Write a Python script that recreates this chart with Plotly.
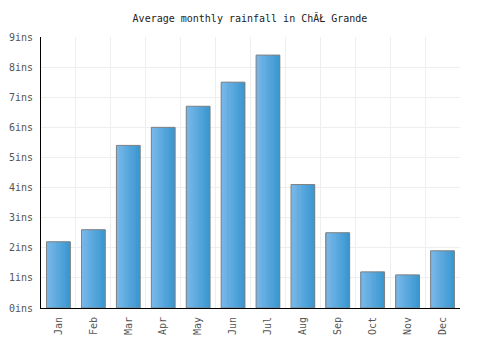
import plotly.graph_objects as go

months = ["Jan", "Feb", "Mar", "Apr", "May", "Jun", "Jul", "Aug", "Sep", "Oct", "Nov", "Dec"]
rainfall = [2.2, 2.6, 5.4, 6.0, 6.7, 7.5, 8.4, 4.1, 2.5, 1.2, 1.1, 1.9]

fig = go.Figure()

bar_w = 0.68
n = 14
left = (122, 184, 234)
right = (58, 152, 208)
for i in range(n):
    t = i / (n - 1)
    c = tuple(round(left[k] + (right[k] - left[k]) * t) for k in range(3))
    fig.add_trace(go.Bar(
        x=months, y=rainfall,
        width=bar_w / n + 0.005,
        offset=-bar_w / 2 + i * bar_w / n,
        marker=dict(color="rgb(%d,%d,%d)" % c, line=dict(width=0)),
        hoverinfo="skip", showlegend=False,
    ))
fig.add_trace(go.Bar(
    x=months, y=rainfall, width=bar_w, offset=-bar_w / 2,
    marker=dict(color="rgba(0,0,0,0)", line=dict(color="#808080", width=1)),
    showlegend=False,
))

font = "DejaVu Sans Mono"
fig.update_layout(
    width=500, height=350,
    margin=dict(l=41, r=40, t=37, b=42),
    paper_bgcolor="white", plot_bgcolor="white",
    barmode="overlay",
    title=dict(text="Average monthly rainfall in ChĂŁ Grande", x=0.5, xanchor="center",
               y=1 - 18 / 350, yanchor="middle",
               font=dict(family=font, size=10, color="#222")),
    font=dict(family=font, size=10, color="#555"),
)
fig.update_xaxes(
    type="category", tickangle=-90, tickson="boundaries",
    showgrid=True, gridcolor="#eeeeee", gridwidth=1,
    showline=True, linecolor="black", linewidth=1,
    ticks="", ticklabelstandoff=4, automargin=False,
    tickfont=dict(family=font, size=10, color="#555"),
)
fig.update_yaxes(
    range=[0, 9], dtick=1, ticksuffix="ins",
    showgrid=True, gridcolor="#eeeeee", gridwidth=1,
    showline=True, linecolor="black", linewidth=1,
    zeroline=False, ticks="", ticklabelstandoff=5, automargin=False,
    tickfont=dict(family=font, size=10, color="#555"),
)

fig.write_html("out.html")
